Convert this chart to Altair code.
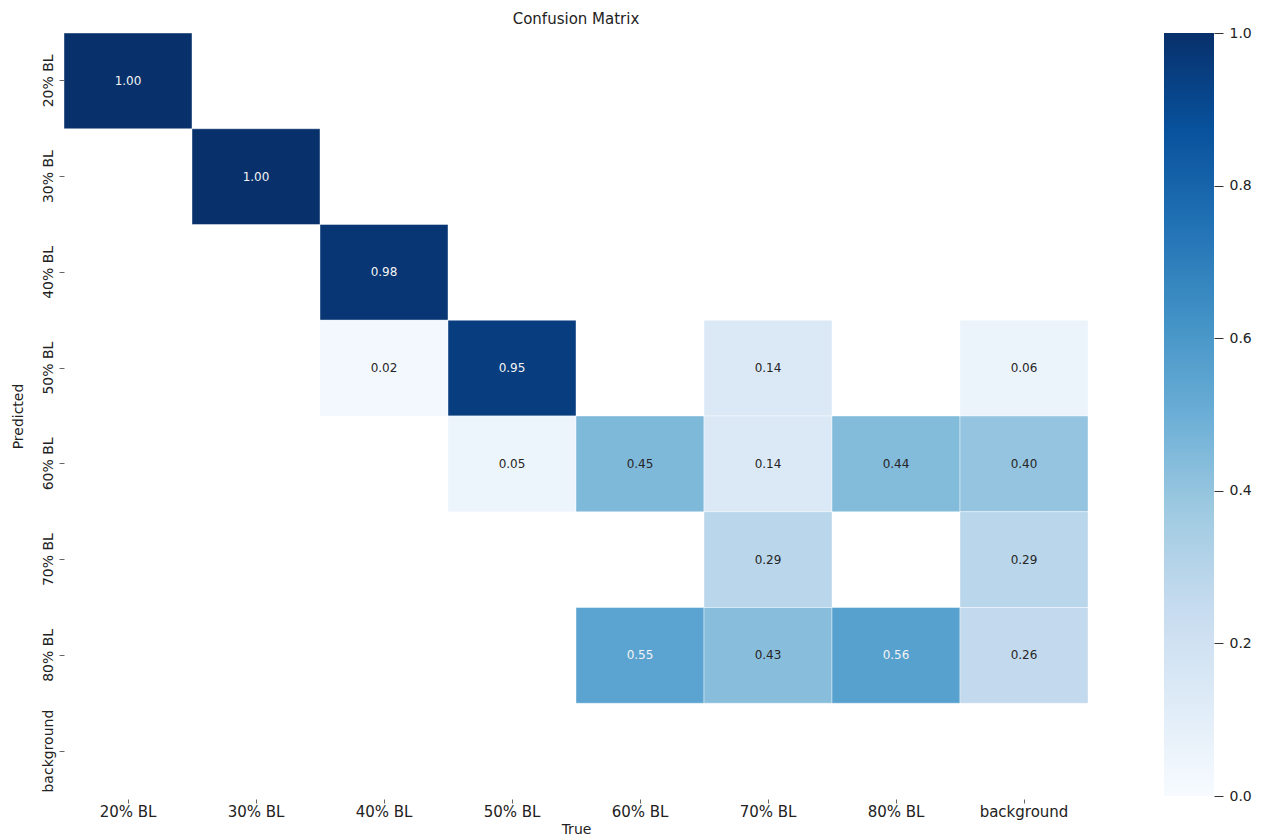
import altair as alt
import pandas as pd

labels = ["20% BL", "30% BL", "40% BL", "50% BL", "60% BL", "70% BL", "80% BL", "background"]

# non-zero cells: (predicted row, true column, value)
pred = ["20% BL", "30% BL", "40% BL",
        "50% BL", "50% BL", "50% BL", "50% BL",
        "60% BL", "60% BL", "60% BL", "60% BL", "60% BL",
        "70% BL", "70% BL",
        "80% BL", "80% BL", "80% BL", "80% BL"]
true = ["20% BL", "30% BL", "40% BL",
        "40% BL", "50% BL", "70% BL", "background",
        "50% BL", "60% BL", "70% BL", "80% BL", "background",
        "70% BL", "background",
        "60% BL", "70% BL", "80% BL", "background"]
vals = [1.00, 1.00, 0.98,
        0.02, 0.95, 0.14, 0.06,
        0.05, 0.45, 0.14, 0.44, 0.40,
        0.29, 0.29,
        0.55, 0.43, 0.56, 0.26]

blues = ["#f7fbff", "#deebf7", "#c6dbef", "#9ecae1", "#6baed6",
         "#4292c6", "#2171b5", "#08519c", "#08306b"]
blues_dom = [i / 8 for i in range(9)]
cbar_ticks = [0.0, 0.2, 0.4, 0.6, 0.8, 1.0]

df = pd.DataFrame({"Predicted": pred, "True": true, "value": vals})

FONT = "DejaVu Sans"

xenc = alt.X("True:N", sort=labels, scale=alt.Scale(domain=labels),
             axis=alt.Axis(title="True", labelAngle=0, labelFontSize=15, labelFont=FONT,
                           titleFont=FONT, titleFontSize=14, titleFontWeight="normal",
                           titleColor="#222", labelColor="#222",
                           tickSize=4, tickColor="#666", domain=False, labelPadding=1,
                           titlePadding=3))
yenc = alt.Y("Predicted:N", sort=labels, scale=alt.Scale(domain=labels),
             axis=alt.Axis(title="Predicted", labelAngle=-90, labelAlign="center",
                           labelBaseline="bottom", labelFontSize=14, labelFont=FONT,
                           titleFont=FONT, titleFontSize=14, titleFontWeight="normal",
                           titleColor="#222", labelColor="#222",
                           tickSize=5, tickColor="#666", domain=False, labelPadding=4,
                           titlePadding=16))

base = alt.Chart(df).encode(x=xenc, y=yenc)

rects = base.mark_rect(stroke="white", strokeWidth=0.6, strokeOpacity=0.7).encode(
    color=alt.Color("value:Q", scale=alt.Scale(domain=blues_dom, range=blues,
                                               interpolate="rgb"), legend=None)
)
texts = base.mark_text(font=FONT, fontSize=12).encode(
    text=alt.Text("value:Q", format=".2f"),
    color=alt.condition(alt.datum.value > 0.5, alt.value("#f4f4f4"), alt.value("#262626")),
)

heat = alt.layer(rects, texts).properties(
    width=1024, height=766,
    title=alt.TitleParams("Confusion Matrix", font=FONT, fontSize=15,
                          fontWeight="normal", color="#222", anchor="middle", offset=6),
)

grad = alt.LinearGradient(
    gradient="linear",
    stops=[alt.GradientStop(offset=d, color=c) for d, c in zip(blues_dom, blues)],
    x1=0, x2=0, y1=1, y2=0,
)

cbar = alt.Chart(pd.DataFrame({"a": [0]})).mark_rect(color=grad).encode(
    x=alt.value(0), x2=alt.value(50),
    y=alt.Y(datum=0.0, type="quantitative", scale=alt.Scale(domain=[0, 1], nice=False),
            axis=alt.Axis(orient="right", values=cbar_ticks, format=".1f", title=None,
                          tickSize=9, tickColor="#333", domain=False, grid=False,
                          labelFont=FONT, labelFontSize=14, labelColor="#222",
                          labelPadding=6)),
    y2=alt.Y2(datum=1.0),
).properties(width=50, height=763)

chart = alt.hconcat(heat, cbar, spacing=75).properties(
    padding={"left": 3, "top": 3, "right": 5, "bottom": 3},
    background="white",
).configure_view(strokeWidth=0, stroke="transparent")

chart.save("out.html", embed_options={"renderer": "svg", "actions": False})
